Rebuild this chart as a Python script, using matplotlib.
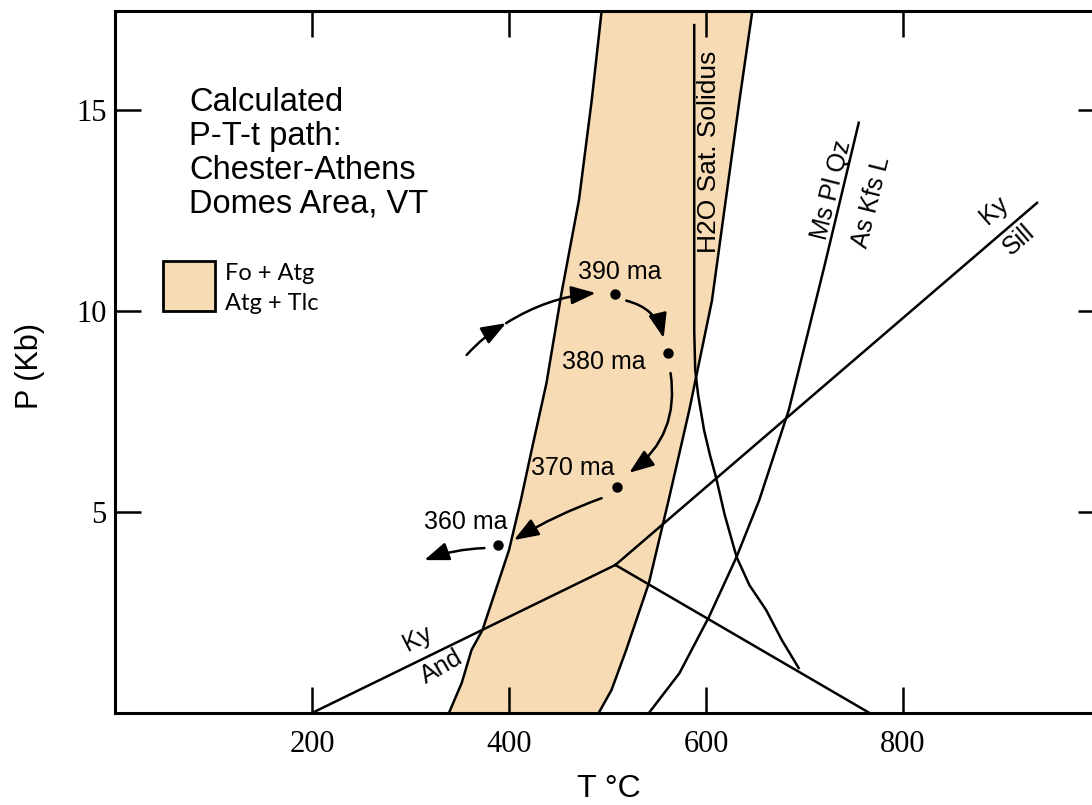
import matplotlib
matplotlib.use("Agg")
import matplotlib.pyplot as plt
from matplotlib.patches import FancyArrowPatch, Rectangle

# ---- Fo+Atg / Atg+Tlc stability band (T in degC, P in kbar) ----
band_left_T = [494, 484, 471, 453, 438, 423, 412, 400, 373, 362, 352, 339]
band_left_P = [17.45, 15.24, 12.75, 10.40, 8.20, 6.54, 5.29, 4.05, 2.06, 1.57, 0.75, 0.0]
band_right_T = [647, 634, 620, 606, 583, 562, 542, 519, 504, 491]
band_right_P = [17.45, 15.24, 12.75, 10.25, 7.53, 5.29, 3.23, 1.57, 0.57, 0.0]

# ---- H2O-saturated granite solidus ----
solidus_T = [588, 588, 589, 592, 598, 604, 610, 619, 631, 644, 661, 677, 694]
solidus_P = [17.10, 9.52, 8.53, 7.90, 7.03, 6.41, 5.87, 4.92, 3.88, 3.18, 2.56, 1.81, 1.12]

# ---- Ms + Pl + Qz = As + Kfs + L ----
ms_T = [755, 720, 684, 654, 631, 603, 573, 552, 542]
ms_P = [14.67, 11.09, 7.53, 5.29, 3.88, 2.39, 0.99, 0.32, 0.0]

# ---- Aluminosilicate triple point and reactions ----
ky_and_T = [200, 508]
ky_and_P = [0.0, 3.68]
ky_sill_T = [508, 936]
ky_sill_P = [3.68, 12.68]
and_sill_T = [508, 766]
and_sill_P = [3.68, 0.0]

# ---- Calculated P-T-t path ----
path_T = [508, 561, 510, 389]
path_P = [10.42, 8.95, 5.62, 4.18]
path_ages = ["390 ma", "380 ma", "370 ma", "360 ma"]
path_label_T = [512, 496, 465, 356]
path_label_P = [10.96, 8.72, 6.09, 4.75]

# arrow segments along the path: (T0, P0, T1, P1, curvature)
arrow_T0 = [357, 397, 519, 564, 494, 375]
arrow_P0 = [8.90, 9.69, 10.25, 8.45, 5.34, 4.10]
arrow_T1 = [397, 488, 557, 522, 405, 314]
arrow_P1 = [9.69, 10.44, 9.32, 5.97, 4.30, 3.80]
arrow_rad = [-0.08, -0.12, -0.3, -0.3, 0.05, 0.08]

x_ticks = [200, 400, 600, 800]
y_ticks = [5, 10, 15]

BAND = "#f7dbb4"
W, H = 1092, 805

fig = plt.figure(figsize=(W / 100, H / 100), dpi=100)
fig.patch.set_facecolor("white")

left_px, right_px, top_px, bottom_px = 115, 1104, 11, 713
ax = fig.add_axes([left_px / W, 1 - bottom_px / H,
                   (right_px - left_px) / W, (bottom_px - top_px) / H])
ax.set_xlim(0, 1004)
ax.set_ylim(0, 17.45)

# stability band
poly_T = band_left_T + band_right_T[::-1]
poly_P = band_left_P + band_right_P[::-1]
ax.fill(poly_T, poly_P, color=BAND, lw=0, zorder=1)
lw = 1.8
ax.plot(band_left_T, band_left_P, color="black", lw=lw, zorder=3)
ax.plot(band_right_T, band_right_P, color="black", lw=lw, zorder=3)

# reaction curves
ax.plot(solidus_T, solidus_P, color="black", lw=lw, zorder=3)
ax.plot(ms_T, ms_P, color="black", lw=lw, zorder=3)
ax.plot(ky_and_T, ky_and_P, color="black", lw=lw, zorder=3)
ax.plot(ky_sill_T, ky_sill_P, color="black", lw=lw, zorder=3)
ax.plot(and_sill_T, and_sill_P, color="black", lw=lw, zorder=3)

# P-T-t path
ax.plot(path_T, path_P, "o", color="black", ms=6.5, zorder=5)
for t, p, lab in zip(path_label_T, path_label_P, path_ages):
    ax.text(t, p, lab, fontsize=18, family="Liberation Sans",
            ha="center", va="center", zorder=6)

for t0, p0, t1, p1, r in zip(arrow_T0, arrow_P0, arrow_T1, arrow_P1, arrow_rad):
    arr = FancyArrowPatch((t0, p0), (t1, p1),
                          connectionstyle=f"arc3,rad={r}",
                          arrowstyle="-|>,head_length=0.75,head_width=0.28",
                          mutation_scale=20, color="black", lw=1.8,
                          shrinkA=0, shrinkB=0, zorder=5)
    ax.add_patch(arr)

# curve labels
sans = "Liberation Sans"
ax.text(603, 13.94, "H2O Sat. Solidus", rotation=90, fontsize=19,
        family=sans, ha="center", va="center", zorder=6)
ax.text(727, 13.0, "Ms Pl Qz", rotation=76, fontsize=18,
        family=sans, ha="center", va="center", zorder=6)
ax.text(768, 12.70, "As Kfs L", rotation=76, fontsize=18,
        family=sans, ha="center", va="center", zorder=6)
ax.text(892, 12.50, "Ky", rotation=41, fontsize=18,
        family=sans, ha="center", va="center", zorder=6)
ax.text(917, 11.75, "Sill", rotation=41, fontsize=18,
        family=sans, ha="center", va="center", zorder=6)
ax.text(307, 1.85, "Ky", rotation=27, fontsize=18,
        family=sans, ha="center", va="center", zorder=6)
ax.text(332, 1.15, "And", rotation=30, fontsize=18,
        family=sans, ha="center", va="center", zorder=6)

# axes styling
for s in ax.spines.values():
    s.set_linewidth(2.2)
ax.set_xticks(x_ticks)
ax.set_yticks(y_ticks)
ax.tick_params(direction="in", length=19, width=1.8, top=True, right=True,
               labelsize=22, colors="black")
ax.tick_params(axis="x", pad=12)
ax.tick_params(axis="y", pad=6)
for lab in ax.get_xticklabels() + ax.get_yticklabels():
    lab.set_family("Liberation Serif")

# axis titles
fig.text(30 / W, 1 - 366 / H, "P (Kb)", rotation=90, fontsize=22,
         family=sans, ha="center", va="center")
fig.text(609 / W, 1 - 789 / H, "T \u00b0C", fontsize=23,
         family=sans, ha="center", va="center")

# title block
fig.text(189 / W, 1 - 87 / H,
         "Calculated\nP-T-t path:\nChester-Athens\nDomes Area, VT",
         fontsize=23.5, family=sans, ha="left", va="top", linespacing=1.12)

# band key
fig.patches.append(Rectangle((163 / W, 1 - 311 / H), 52 / W, 50 / H,
                             transform=fig.transFigure, facecolor=BAND,
                             edgecolor="black", lw=2))
fig.text(225 / W, 1 - 273 / H, "Fo + Atg", fontsize=17, family="Lato",
         ha="left", va="center")
fig.text(225 / W, 1 - 303 / H, "Atg + Tlc", fontsize=17, family="Lato",
         ha="left", va="center")

fig.savefig("out.png", dpi=100, facecolor="white")
